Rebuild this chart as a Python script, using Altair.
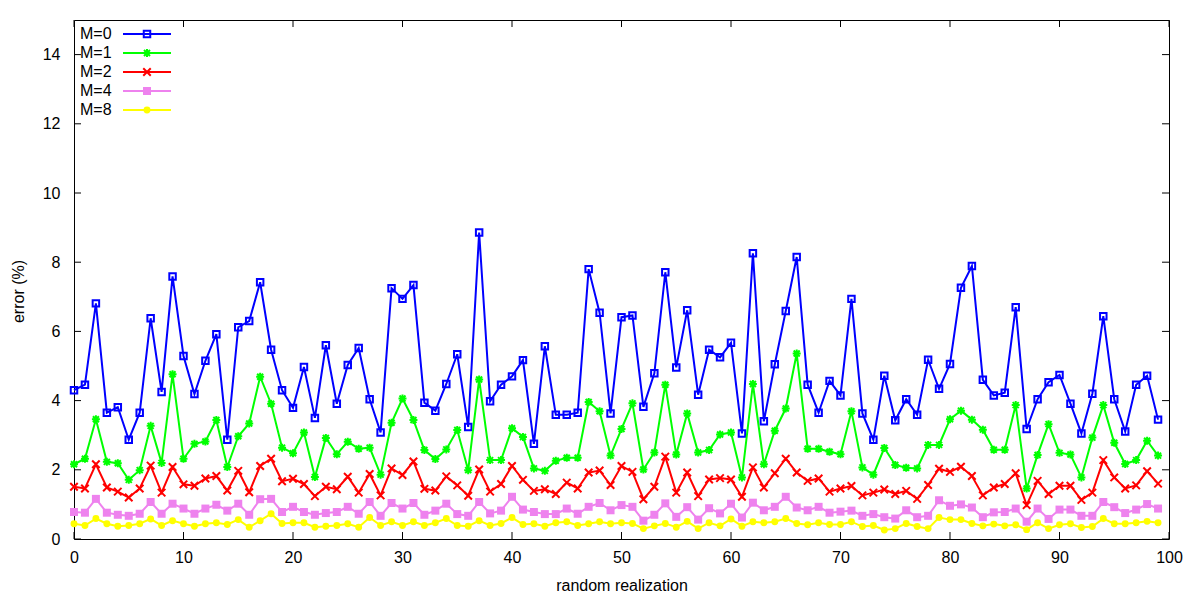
import altair as alt
import pandas as pd

series_names = ["M=0", "M=1", "M=2", "M=4", "M=8"]
series_colors = ["#0000ff", "#00ff00", "#ff0000", "#ee82ee", "#ffff00"]

m0 = [4.30,4.46,6.81,3.65,3.81,2.87,3.65,6.38,4.25,7.59,5.29,4.19,5.15,5.92,2.87,6.12,6.30,7.42,
      5.47,4.30,3.79,4.97,3.50,5.60,3.91,5.03,5.52,4.04,3.08,7.25,6.94,7.34,3.94,3.71,
      4.48,5.34,3.24,8.86,3.98,4.46,4.70,5.17,2.75,5.57,3.59,3.59,3.65,7.80,6.54,3.63,6.41,
      6.46,3.82,4.79,7.71,4.96,6.61,4.17,5.47,5.25,5.67,3.05,8.26,3.40,5.05,6.59,8.15,4.46,
      3.65,4.57,4.15,6.94,3.63,2.87,4.72,3.43,4.04,3.59,5.18,4.34,5.06,7.26,7.89,4.60,4.15,
      4.23,6.70,3.18,4.04,4.53,4.74,3.91,3.05,4.20,6.44,4.04,3.11,4.46,4.72,3.45]
m1 = [2.16,2.32,3.46,2.23,2.19,1.71,1.99,3.27,2.20,4.76,2.32,2.75,2.82,3.44,2.08,2.97,3.34,4.69,
      3.91,2.64,2.48,3.08,1.79,2.92,2.45,2.81,2.61,2.64,1.86,3.36,4.06,3.44,2.57,2.31,
      2.59,3.15,1.99,4.61,2.28,2.28,3.20,2.95,2.04,1.97,2.26,2.35,2.35,3.96,3.69,2.41,3.18,
      3.92,2.01,2.50,4.46,2.44,3.63,2.50,2.57,3.02,3.08,1.78,4.48,2.16,3.13,3.77,5.36,2.61,
      2.61,2.52,2.45,3.69,2.07,1.86,2.63,2.14,2.06,2.04,2.72,2.72,3.46,3.71,3.45,3.16,2.58,
      2.58,3.87,1.46,2.43,3.32,2.49,2.44,1.78,2.93,3.87,2.78,2.17,2.28,2.84,2.41]
m2 = [1.51,1.46,2.16,1.49,1.37,1.20,1.46,2.12,1.34,2.08,1.58,1.54,1.75,1.82,1.40,1.97,1.35,2.11,
      2.32,1.67,1.74,1.59,1.24,1.51,1.44,1.80,1.34,1.88,1.26,2.04,1.85,2.24,1.45,1.40,
      1.81,1.55,1.25,2.01,1.37,1.59,2.11,1.71,1.39,1.44,1.30,1.63,1.46,1.92,1.98,1.56,2.11,
      1.94,1.15,1.51,2.38,1.34,1.92,1.24,1.72,1.76,1.72,1.22,2.07,1.49,1.90,2.32,1.92,1.68,
      1.75,1.37,1.46,1.53,1.26,1.34,1.43,1.30,1.39,1.16,1.56,2.03,1.94,2.09,1.82,1.26,1.49,
      1.59,1.90,0.98,1.68,1.30,1.54,1.54,1.13,1.34,2.28,1.78,1.46,1.55,1.96,1.60]
m4 = [0.78,0.76,1.16,0.76,0.70,0.67,0.73,1.07,0.73,1.02,0.88,0.73,0.88,0.99,0.82,1.02,0.70,1.15,
      1.16,0.78,0.93,0.78,0.70,0.75,0.78,0.93,0.73,1.07,0.67,1.04,0.88,1.04,0.70,0.82,
      1.02,0.72,0.67,1.07,0.74,0.82,1.22,0.85,0.78,0.72,0.72,0.88,0.73,0.93,1.04,0.83,0.98,
      0.93,0.53,0.70,1.03,0.64,0.92,0.56,0.89,0.74,1.02,0.62,1.05,0.83,0.93,1.22,0.91,0.83,
      0.93,0.76,0.79,0.82,0.67,0.72,0.63,0.59,0.83,0.63,0.67,1.12,0.96,1.00,0.91,0.63,0.77,
      0.78,0.88,0.50,0.88,0.58,0.85,0.85,0.67,0.67,1.07,0.92,0.75,0.85,1.01,0.88]
m8 = [0.44,0.39,0.59,0.44,0.37,0.39,0.44,0.58,0.39,0.53,0.44,0.37,0.44,0.47,0.42,0.56,0.34,0.53,
      0.73,0.45,0.47,0.47,0.34,0.37,0.39,0.44,0.34,0.62,0.39,0.50,0.39,0.50,0.39,0.47,
      0.59,0.39,0.37,0.53,0.39,0.45,0.62,0.42,0.44,0.37,0.47,0.50,0.39,0.44,0.50,0.44,0.47,
      0.45,0.30,0.38,0.45,0.34,0.51,0.30,0.47,0.38,0.58,0.37,0.50,0.47,0.50,0.59,0.45,0.41,
      0.47,0.42,0.42,0.50,0.36,0.39,0.26,0.30,0.45,0.36,0.30,0.62,0.56,0.56,0.45,0.38,0.43,
      0.38,0.41,0.27,0.47,0.30,0.41,0.44,0.33,0.36,0.59,0.44,0.44,0.47,0.51,0.47]

x_ticks = [0, 10, 20, 30, 40, 50, 60, 70, 80, 90, 100]
y_ticks = [0, 2, 4, 6, 8, 10, 12, 14]

W, H = 1095, 519
FONT = "Liberation Sans"
FS = 16

all_series = [m0, m1, m2, m4, m8]
star_path = "M-1,0L1,0M0,-1L0,1M-0.75,-0.75L0.75,0.75M-0.75,0.75L0.75,-0.75"
x_path = "M-1,-1L1,1M-1,1L1,-1"
markers = [
    dict(shape="square", filled=False, size=42, strokeWidth=2),
    dict(shape=star_path, filled=False, size=64, strokeWidth=2),
    dict(shape=x_path, filled=False, size=56, strokeWidth=2),
    dict(shape="square", filled=True, size=64, strokeWidth=0),
    dict(shape="circle", filled=True, size=48, strokeWidth=0),
]

xscale = alt.Scale(domain=[0, 100], nice=False, zero=False)
yscale = alt.Scale(domain=[0, 15], nice=False, zero=True)

xaxis = alt.Axis(values=x_ticks, ticks=False, grid=False, domain=False, labelFont=FONT,
                 labelFontSize=FS, labelColor="black", labelPadding=10, labelFlush=False,
                 title="random realization", titleFont=FONT, titleFontSize=FS,
                 titleFontWeight="normal", titleColor="black", titleX=W / 2, titleY=46,
                 titleBaseline="middle", titleAlign="center")
yaxis = alt.Axis(values=y_ticks, ticks=False, grid=False, domain=False, labelFont=FONT,
                 labelFontSize=FS, labelColor="black", labelPadding=14, labelFlush=False,
                 title="error (%)", titleFont=FONT, titleFontSize=FS, titleFontWeight="normal",
                 titleColor="black", titleX=-56, titleY=271, titleAngle=-90,
                 titleAlign="center", titleBaseline="middle")


def point_kwargs(k):
    mk = markers[k]
    kw = dict(shape=mk["shape"], filled=mk["filled"], size=mk["size"], opacity=1)
    if mk["filled"]:
        kw["fill"] = series_colors[k]
        kw["strokeWidth"] = 0
    else:
        kw["stroke"] = series_colors[k]
        kw["strokeWidth"] = mk["strokeWidth"]
        kw["fill"] = "transparent"
    return kw


def X(field):
    return alt.X(field, scale=xscale, axis=xaxis, title="random realization")


def Y(field):
    return alt.Y(field, scale=yscale, axis=yaxis, title="error (%)")


layers = []
for k, (name, vals) in enumerate(zip(series_names, all_series)):
    df = pd.DataFrame({"x": list(range(len(vals))), "v": vals, "s": name})
    base = alt.Chart(df)
    line = base.mark_line(color=series_colors[k], strokeWidth=2).encode(x=X("x:Q"), y=Y("v:Q"))
    pts = base.mark_point(**point_kwargs(k)).encode(x=X("x:Q"), y=Y("v:Q"))
    layers += [line, pts]

# inside ticks (gnuplot style, mirrored)
TL = 7
ydf = pd.DataFrame({"v": y_ticks})
xdf = pd.DataFrame({"x": x_ticks})
ytick_l = alt.Chart(ydf).mark_rule(color="black", strokeWidth=1).encode(
    y=Y("v:Q"), x=alt.value(0), x2=alt.value(TL))
ytick_r = alt.Chart(ydf).mark_rule(color="black", strokeWidth=1).encode(
    y=Y("v:Q"), x=alt.value(W - TL), x2=alt.value(W))
xtick_b = alt.Chart(xdf).mark_rule(color="black", strokeWidth=1).encode(
    x=X("x:Q"), y=alt.value(H - TL), y2=alt.value(H))
xtick_t = alt.Chart(xdf).mark_rule(color="black", strokeWidth=1).encode(
    x=X("x:Q"), y=alt.value(0), y2=alt.value(TL))

# key (top-left, text then line sample with marker)
key_layers = []
for k, name in enumerate(series_names):
    ky = 14 + 19 * k
    kdf = pd.DataFrame({"s": [name]})
    kb = alt.Chart(kdf)
    key_layers.append(kb.mark_text(align="left", baseline="middle", font=FONT, fontSize=FS,
                                   color="black").encode(text="s:N", x=alt.value(6), y=alt.value(ky)))
    key_layers.append(kb.mark_rule(color=series_colors[k], strokeWidth=2).encode(
        x=alt.value(49), x2=alt.value(97), y=alt.value(ky)))
    key_layers.append(kb.mark_point(**point_kwargs(k)).encode(x=alt.value(73), y=alt.value(ky)))

chart = alt.layer(*layers, ytick_l, ytick_r, xtick_b, xtick_t, *key_layers).properties(
    width=W, height=H,
    autosize=alt.AutoSizeParams(type="none"),
    padding={"left": 66, "top": 12, "right": 16, "bottom": 60},
    background="white",
).configure_view(stroke="black", strokeWidth=1)

chart.save("out.html", embed_options={"renderer": "svg", "actions": False})
